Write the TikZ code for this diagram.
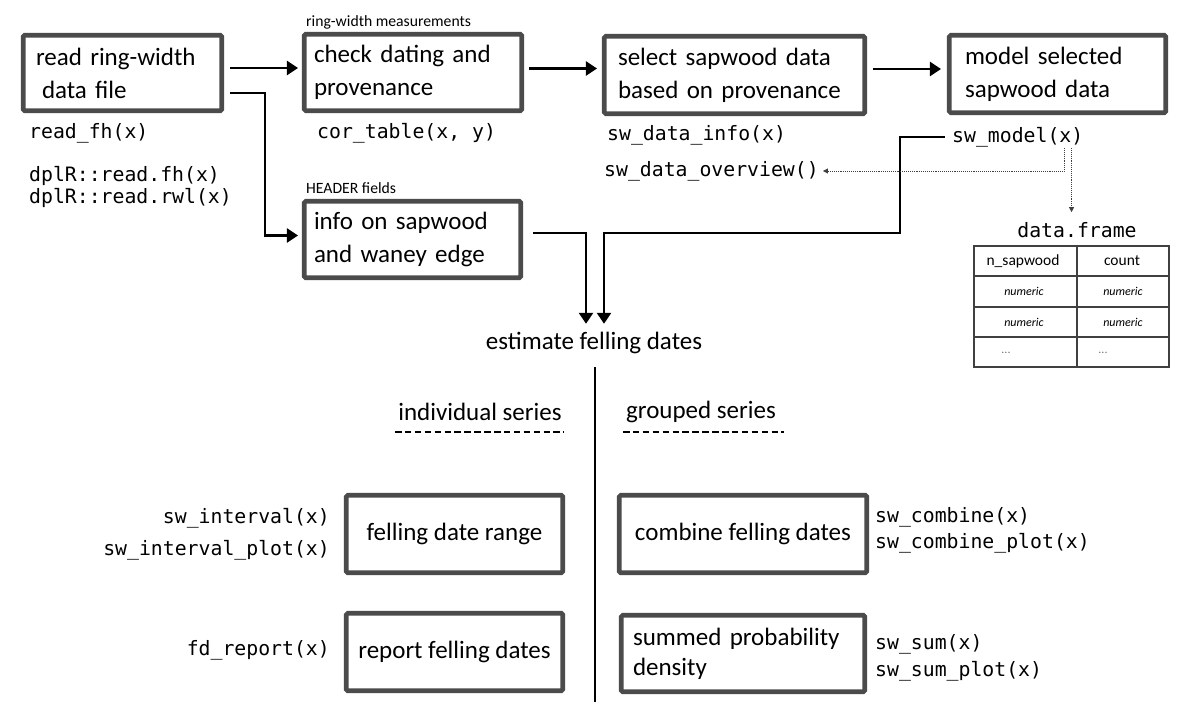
\documentclass[tikz,border=0pt]{standalone}
\usepackage{fontspec}
\setmainfont{Carlito}
\newfontfamily\monof{DejaVu Sans Mono}
\usetikzlibrary{arrows.meta,calc}
\definecolor{boxgray}{HTML}{4B4B4B}
\definecolor{tblgray}{HTML}{404040}
\begin{document}
\begin{tikzpicture}[x=1pt,y=-1pt,
  box/.style={draw=boxgray, line width=4.6pt, rounded corners=1.5pt, inner ysep=0pt,
    font=\fontsize{25}{33}\selectfont, align=left},
  cbox/.style={draw=boxgray, line width=4.6pt, rounded corners=1.5pt, inner sep=0pt,
    font=\fontsize{25}{30}\selectfont, align=center},
  conn/.style={line width=2.3pt, -{Triangle[length=11pt,width=14pt]}},
  dotc/.style={line width=0.9pt, densely dotted, draw=black!75, -{Triangle[length=5pt,width=5pt]}},
  code/.style={font=\monof\fontsize{19.8}{24}\selectfont, inner sep=0pt},
  small/.style={font=\fontsize{15.7}{18}\selectfont, inner sep=0pt},
  head/.style={font=\fontsize{25}{30}\selectfont, inner sep=0pt},
  cell/.style={font=\fontsize{15.5}{18}\selectfont, inner sep=0pt},
  celli/.style={font=\itshape\fontsize{12}{14}\selectfont, inner sep=0pt},
  celld/.style={font=\fontsize{12}{14}\selectfont, text=black!55, inner sep=0pt},
  dashline/.style={line width=1.6pt, dash pattern=on 6.5pt off 3.4pt},
]
\useasboundingbox (0,0) rectangle (1200,717);

% top boxes
\node[box, inner xsep=12.75pt, text width=173pt, minimum height=75.5pt] (box1) at (122.5,73)
  {read ring-width\\\hspace*{6pt}data file};
\node[box, inner xsep=9.75pt, text width=198pt, minimum height=76.5pt] (box2) at (413,72.5)
  {check dating and\\provenance};
\node[box, inner xsep=13.75pt, text width=233pt, minimum height=77.5pt] (box3) at (734.5,75)
  {select sapwood data\\based on provenance};
\node[box, inner xsep=15.75pt, text width=185pt, minimum height=77.5pt] (box4) at (1057.5,74)
  {model selected\\sapwood data};
\node[box, inner xsep=9.75pt, text width=197pt, minimum height=76.5pt] (box5) at (412.5,239.5)
  {info on sapwood\\and waney edge};

% small captions
\node[small, anchor=west] (ringcap) at (306,22) {ring-width measurements};
\node[small, anchor=west] (headcap) at (306,188) {HEADER fields};

% code labels
\node[code, anchor=west] (readfh) at (29,133) {read\_fh(x)};
\node[code, anchor=west] (dplra) at (29,176) {dplR::read.fh(x)};
\node[code, anchor=west] (dplrb) at (29,198) {dplR::read.rwl(x)};
\node[code, anchor=west] (cortab) at (317,133) {cor\_table(x, y)};
\node[code, anchor=west] (swinfo) at (607,135) {sw\_data\_info(x)};
\node[code, anchor=west] (swover) at (604,171) {sw\_data\_overview()};
\node[code, anchor=west] (swmodel) at (952,137) {sw\_model(x)};
\node[code] (dframe) at (1077,230) {data.frame};

% table
\draw[tblgray, line width=1.6pt] (974,246) rectangle (1169,367);
\foreach \yy in {276,307,337} \draw[tblgray, line width=1.6pt] (974,\yy) -- (1169,\yy);
\draw[tblgray, line width=1.6pt] (1077,246) -- (1077,367);
\node[cell] (th1) at (1023,261) {n\_sapwood};
\node[cell] (th2) at (1122,261) {count};
\node[celli] (c11) at (1024,291) {numeric};
\node[celli] (c12) at (1123,291) {numeric};
\node[celli] (c21) at (1024,322) {numeric};
\node[celli] (c22) at (1123,322) {numeric};
\node[celld] (c31) at (1006,353) {...};
\node[celld] (c32) at (1103,353) {...};

% estimate
\node[head, text height=18pt, text depth=6pt] (est) at (594,343) {estimate felling dates};
\node[head] (indiv) at (480,412) {individual series};
\node[head] (group) at (701,412) {grouped series};
\draw[dashline] (395,432) -- (564,432);
\draw[dashline] (623,432) -- (784,432);
\draw[line width=2.2pt] (595,367) -- (595,702);

% bottom boxes
\node[cbox, minimum width=216.5pt, minimum height=77.5pt] (range) at (454.5,534) {felling date range};
\node[cbox, minimum width=216.5pt, minimum height=77.5pt] (report) at (454.5,652) {report felling dates};
\node[cbox, minimum width=247.5pt, minimum height=77.5pt] (combine) at (743,534) {combine felling dates};
\node[box, font=\fontsize{25}{30}\selectfont, inner xsep=11.75pt, text width=220pt, minimum height=76.5pt] (summed) at (743,653.5)
  {summed probability\\density};

\node[code, anchor=east] (swint) at (330,518) {sw\_interval(x)};
\node[code, anchor=east] (swintp) at (330,550) {sw\_interval\_plot(x)};
\node[code, anchor=east] (fdrep) at (330,650) {fd\_report(x)};
\node[code, anchor=west] (swcomb) at (875,517) {sw\_combine(x)};
\node[code, anchor=west] (swcombp) at (875,543) {sw\_combine\_plot(x)};
\node[code, anchor=west] (swsum) at (875,644) {sw\_sum(x)};
\node[code, anchor=west] (swsump) at (875,671) {sw\_sum\_plot(x)};

% connectors
\coordinate (a1) at ($(box1.east)+(6,-5)$);
\coordinate (a2) at ($(box2.east)+(5,-4)$);
\coordinate (a3) at ($(box3.east)+(6,-6)$);
\draw[conn, shorten >=4pt] (a1) -- (a1 -| box2.west);
\draw[conn] ($(box1.east)+(6,20)$) -- ++(35,0) |- ($(box5.west)+(-4,-4)$);
\draw[conn, shorten >=5pt] (a2) -- (a2 -| box3.west);
\draw[conn, shorten >=6pt] (a3) -- (a3 -| box4.west);
\draw[conn] ($(box5.east)+(10,-6.5)$) -| ($(est.north)+(-8,-7)$);
\draw[conn] ($(swmodel.west)+(-7,0)$) -- ++(-45,0) -- ++(0,96) -| ($(est.north)+(10,-7)$);

\coordinate (d1) at ($(swmodel.south east)+(-19,1)$);
\coordinate (d2) at ($(swmodel.south east)+(-12,1)$);
\draw[dotc] (d1) |- ($(swover.east)+(4,0)$);
\draw[dotc, shorten >=10pt] (d2) -- (d2 |- dframe.north);
\end{tikzpicture}
\end{document}
